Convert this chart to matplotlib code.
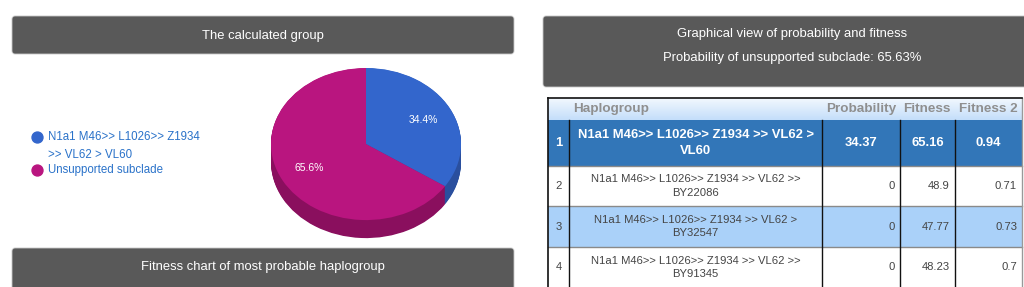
import numpy as np
import matplotlib
matplotlib.use("Agg")
import matplotlib.pyplot as plt
from matplotlib.patches import FancyBboxPatch, Rectangle

plt.rcParams["font.family"] = ["Liberation Sans", "DejaVu Sans"]

# data
pie_labels = ["N1a1 M46>> L1026>> Z1934\n>> VL62 > VL60", "Unsupported subclade"]
pie_values = [34.37, 65.63]
pie_colors = ["#3366cc", "#b9157f"]
side_colors = ["#2a4f9e", "#8a0f5e"]

columns = ["Haplogroup", "Probability", "Fitness", "Fitness 2"]
ranks = ["1", "2", "3", "4"]
haplogroups = [
    "N1a1 M46>> L1026>> Z1934 >> VL62 >\nVL60",
    "N1a1 M46>> L1026>> Z1934 >> VL62 >>\nBY22086",
    "N1a1 M46>> L1026>> Z1934 >> VL62 >\nBY32547",
    "N1a1 M46>> L1026>> Z1934 >> VL62 >>\nBY91345",
]
probability = [34.37, 0, 0, 0]
fitness = [65.16, 48.9, 47.77, 48.23]
fitness2 = [0.94, 0.71, 0.73, 0.7]

W, H = 1024, 287
fig = plt.figure(figsize=(W / 100, H / 100), dpi=100)
ax = fig.add_axes([0, 0, 1, 1])
ax.set_xlim(0, W)
ax.set_ylim(H, 0)
ax.axis("off")


def header_box(x0, y0, x1, y1):
    ax.add_patch(FancyBboxPatch((x0, y0), x1 - x0, y1 - y0,
                                boxstyle="round,pad=0,rounding_size=3",
                                fc="#595959", ec="#c8c8c8", lw=0.6, zorder=1))


# header boxes
header_box(12, 16, 514, 54)
ax.text(263, 35.5, "The calculated group", color="white", fontsize=9.4,
        ha="center", va="center")
header_box(12, 248, 514, 292)
ax.text(263, 267, "Fitness chart of most probable haplogroup", color="white",
        fontsize=9.4, ha="center", va="center")
header_box(543, 16, 1045, 87)
ax.text(792, 34.5, "Graphical view of probability and fitness", color="white",
        fontsize=9.4, ha="center", va="center")
ax.text(792, 57.5, "Probability of unsupported subclade: 65.63%", color="white",
        fontsize=9.4, ha="center", va="center")

# legend
legend_y = [137, 170]
for lab, col, ly in zip(pie_labels, pie_colors, legend_y):
    ax.scatter([37], [ly], s=62, color=col, zorder=3)
    ax.text(48, ly - 5.5, lab, color="#2a72c9", fontsize=8.3, ha="left",
            va="top", linespacing=1.6)

# 3D-ish pie
pax = fig.add_axes([271 / W, (H - 240) / H, 190 / W, 172 / H])
depth = 0.237
for k in np.linspace(depth, 0.005, 24):
    pax.pie(pie_values, colors=side_colors, startangle=90, counterclock=False,
            center=(0, -k), wedgeprops=dict(lw=0), frame=False)
wedges, _, autotexts = pax.pie(pie_values, colors=pie_colors, startangle=90,
                               counterclock=False, autopct="%.1f%%",
                               pctdistance=0.68, wedgeprops=dict(lw=0),
                               textprops=dict(color="white", fontsize=7.5),
                               frame=False)
pax.set_aspect("auto")
pax.set_xlim(-1.0, 1.0)
pax.set_ylim(-1.0 - depth - 0.025, 1.0)
pax.axis("off")

# table
col_x = [548, 569, 822, 900, 955, 1022]
row_y = [98, 120, 166, 206, 247, 288]
row_bg = ["#3276b8", "#ffffff", "#aad1f9", "#ffffff"]

grad = np.linspace(0, 1, 50).reshape(-1, 1)
ax.imshow(grad, extent=(col_x[0], col_x[-1], row_y[1], row_y[0]),
          cmap=matplotlib.colors.LinearSegmentedColormap.from_list(
              "hdr", ["#f2f8fe", "#c4defa"]), aspect="auto", zorder=1)
hdr_c = "#8f8f8f"
ax.text(col_x[1] + 4, 109, columns[0], color=hdr_c, fontsize=9.7,
        fontweight="bold", ha="left", va="center", zorder=3)
for j, name in enumerate(columns[1:]):
    ax.text(col_x[j + 3] - 4, 109, name, color=hdr_c, fontsize=9.7,
            fontweight="bold", ha="right", va="center", zorder=3)

for i in range(len(ranks)):
    y0, y1 = row_y[i + 1], row_y[i + 2]
    ax.add_patch(Rectangle((col_x[0], y0), col_x[-1] - col_x[0], y1 - y0,
                           fc=row_bg[i], ec="none", zorder=1))
    yc = (y0 + y1) / 2
    vals = [f"{probability[i]:g}", f"{fitness[i]:g}", f"{fitness2[i]:g}"]
    if i == 0:
        kw = dict(color="white", fontsize=9.4, fontweight="bold")
        ax.text((col_x[0] + col_x[1]) / 2, yc, ranks[i], ha="center",
                va="center", zorder=3, **kw)
        ax.text((col_x[1] + col_x[2]) / 2, yc, haplogroups[i], ha="center",
                va="center", linespacing=1.4, zorder=3, **kw)
        for j, v in enumerate(vals):
            ax.text((col_x[j + 2] + col_x[j + 3]) / 2, yc, v, ha="center",
                    va="center", zorder=3, **kw)
    else:
        kw = dict(color="#444444", fontsize=8.15)
        ax.text((col_x[0] + col_x[1]) / 2, yc, ranks[i], ha="center",
                va="center", zorder=3, **kw)
        ax.text((col_x[1] + col_x[2]) / 2, yc, haplogroups[i], ha="center",
                va="center", linespacing=1.45, zorder=3, **kw)
        for j, v in enumerate(vals):
            ax.text(col_x[j + 3] - 5, yc, v, ha="right", va="center",
                    zorder=3, **kw)

# grid lines
for y in row_y[2:-1]:
    ax.plot([col_x[0], col_x[-1]], [y, y], color="#8a8a8a", lw=1, zorder=2)
for x in col_x[1:-1]:
    ax.plot([x, x], [row_y[1], row_y[-1]], color="#111111", lw=1, zorder=2)
ax.plot([col_x[0], col_x[0]], [row_y[0], row_y[-1]], color="#111111", lw=1.2, zorder=2)
ax.plot([col_x[-1], col_x[-1]], [row_y[0], row_y[-1]], color="#999999", lw=1, zorder=2)
ax.plot([col_x[0], col_x[-1]], [row_y[0], row_y[0]], color="#111111", lw=1.2, zorder=2)

fig.savefig("out.png", dpi=100)
